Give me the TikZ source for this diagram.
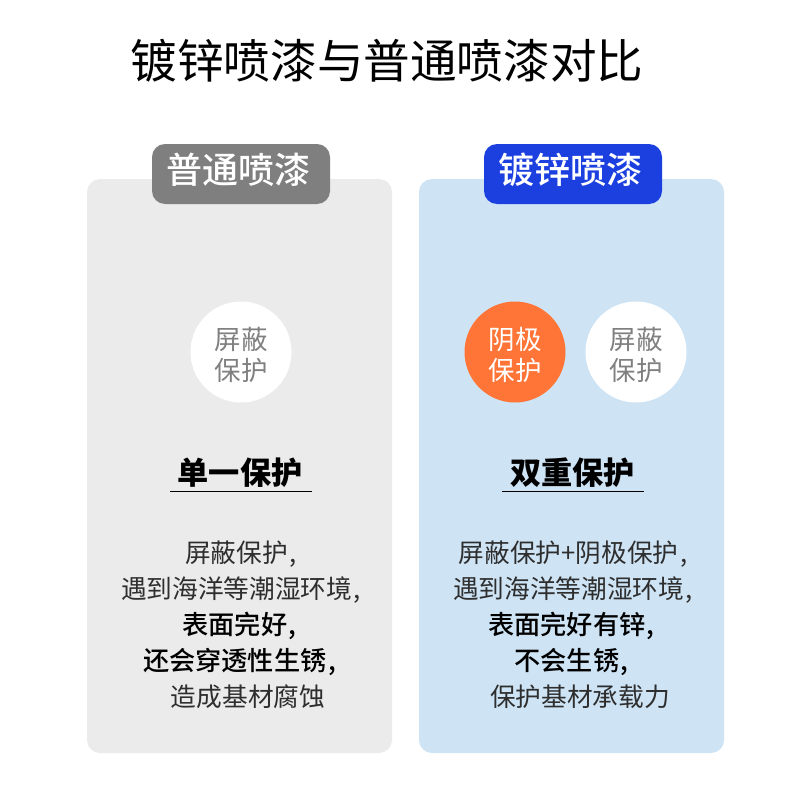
\documentclass[tikz,border=0pt]{standalone}
\usepackage{fontspec}
\setmainfont{Noto Sans CJK SC}
\newfontfamily\cjkmed{Noto Sans CJK SC Medium}
\definecolor{cardgray}{HTML}{EBEBEB}
\definecolor{cardblue}{HTML}{CEE4F5}
\definecolor{taggray}{HTML}{7F7F7F}
\definecolor{tagblue}{HTML}{1C40E0}
\definecolor{orangec}{HTML}{FF7537}
\definecolor{bodytxt}{HTML}{2E2E2E}
\definecolor{circtxt}{HTML}{808080}
\newcommand{\cm}{\kern1.5pt,}
\newcommand{\dk}[1]{{\cjkmed\fontsize{26.2}{36}\selectfont\color{black}#1\kern3pt}}
\newcommand{\dn}[1]{\raisebox{-3pt}[23pt][3pt]{#1}}
\newcommand{\tg}[1]{\raisebox{3pt}[30pt][5pt]{\kern-3pt#1\kern3pt}}
\tikzset{
 x=1pt,y=-1pt,
 card/.style={rounded corners=13pt,inner sep=0},
 tag/.style={rounded corners=13pt,text=white,font=\cjkmed\fontsize{36}{36}\selectfont,anchor=center,minimum height=60pt,inner sep=0},
 disc/.style={circle,minimum size=101pt,inner sep=0,align=center,font=\fontsize{26.5}{31}\selectfont},
 head/.style={font=\bfseries\fontsize{31.2}{31.2}\selectfont,text=black},
 body/.style={font=\fontsize{25.7}{36}\selectfont,text=bodytxt,align=center},
}
\begin{document}
\begin{tikzpicture}
\useasboundingbox (0,0) rectangle (800,800);
\fill[white] (0,0) rectangle (800,800);
\node (title) at (387,61) {\fontsize{46.6}{46.6}\selectfont 镀锌喷漆与普通喷漆对比};
\fill[cardgray,card] (87,179) rectangle (392,753);
\fill[cardblue,card] (419,179) rectangle (724,753);
\node[tag,fill=taggray,minimum width=178pt] (t1) at (241,174) {\tg{普通喷漆}};
\node[tag,fill=tagblue,minimum width=178pt] (t2) at (573,174) {\tg{镀锌喷漆}};
\node[disc,fill=white,text=circtxt] (d1) at (241,352) {\dn{屏蔽}\\\dn{保护}};
\node[disc,fill=orangec,text=white] (d2) at (515,352) {\dn{阴极}\\\dn{保护}};
\node[disc,fill=white,text=circtxt] (d3) at (636,352) {\dn{屏蔽}\\\dn{保护}};
\node[head] (h1) at (240,473) {单一保护};
\node[head] (h2) at (572.5,473) {双重保护};
\draw[black,line width=1pt] (170,491.5) -- (312,491.5);
\draw[black,line width=1pt] (502,491.5) -- (644,491.5);
\node[body] (b1) at (241,625) {屏蔽保护\cm\\遇到海洋等潮湿环境\cm\\\dk{表面完好\cm}\\\dk{还会穿透性生锈\cm}\\\hspace*{14pt}造成基材腐蚀};
\node[body] (b2) at (573,625) {屏蔽保护+阴极保护\cm\\遇到海洋等潮湿环境\cm\\\dk{表面完好有锌\cm}\\\dk{不会生锈\cm}\\\hspace*{14pt}保护基材承载力};
\end{tikzpicture}
\end{document}
